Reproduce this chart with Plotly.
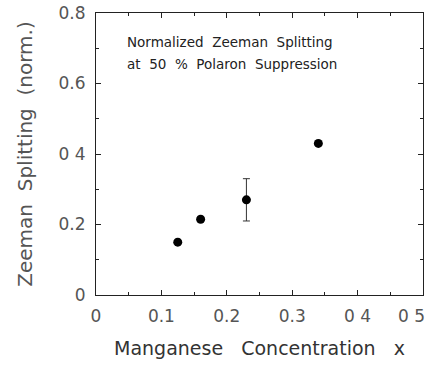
import plotly.graph_objects as go

# Manganese concentration and normalized Zeeman splitting
mn_conc = [0.125, 0.16, 0.23, 0.34]
zeeman_norm = [0.15, 0.215, 0.27, 0.43]
err_plus = [0, 0, 0.06, 0]
err_minus = [0, 0, 0.06, 0]

NB = "\u00a0"
x_ticks = [0, 0.1, 0.2, 0.3, 0.4, 0.5]
x_tick_text = ["0", "0.1", "0.2", "0.3", "0 4", "0 5"]
y_ticks = [0, 0.2, 0.4, 0.6, 0.8]
y_tick_text = ["0", "0.2", "0 4", "0.6", "0.8"]

FONT = "DejaVu Sans"
INK = "#222222"
LABEL = "#555555"

fig = go.Figure()
fig.add_trace(go.Scatter(
    x=mn_conc, y=zeeman_norm, mode="markers",
    marker=dict(size=9, color="black"),
    error_y=dict(type="data", symmetric=False, array=err_plus,
                 arrayminus=err_minus, color="#333333", thickness=1, width=3.5),
    showlegend=False,
))

axis_common = dict(
    showgrid=False, zeroline=False, showline=True, linecolor=INK, linewidth=1,
    mirror="allticks", ticks="inside", ticklen=5, tickwidth=1, tickcolor=INK,
    tickfont=dict(family=FONT, size=17, color=LABEL), automargin=False,
)

# The last x label sits right-aligned at the edge so it stays on the page
fig.update_xaxes(
    range=[0, 0.5], tickvals=x_ticks, ticktext=x_tick_text[:-1] + [""],
    minor=dict(dtick=0.05, ticks="inside", ticklen=3, tickcolor=INK),
    title=dict(text="Manganese" + NB * 3 + "Concentration" + NB * 3 + "x",
               font=dict(family=FONT, size=19, color="#333333"), standoff=16),
    ticklabelstandoff=6,
    **axis_common,
)
fig.add_annotation(
    x=x_ticks[-1], y=0, xref="x", yref="paper", xanchor="right", yanchor="top",
    xshift=4, yshift=-9, text=x_tick_text[-1], showarrow=False,
    font=dict(family=FONT, size=17, color=LABEL),
)

fig.update_yaxes(
    range=[0, 0.8], tickvals=y_ticks, ticktext=y_tick_text,
    minor=dict(dtick=0.1, ticks="inside", ticklen=3, tickcolor=INK),
    title=dict(text="Zeeman" + NB * 2 + "Splitting" + NB * 2 + "(norm.)",
               font=dict(family=FONT, size=20, color="#555555"), standoff=20),
    ticklabelstandoff=6,
    **axis_common,
)

# Two-line caption in the upper-left of the plot area
caption_lines = ["Normalized  Zeeman  Splitting", "at  50  %  Polaron  Suppression"]
caption_y = [0.717, 0.655]
for line, yy in zip(caption_lines, caption_y):
    fig.add_annotation(
        x=0.044, y=yy, xref="x", yref="y", xanchor="left", yanchor="middle",
        text=line.replace("  ", NB * 2), showarrow=False, align="left",
        font=dict(family=FONT, size=13.5, color="#222222"),
    )

fig.update_layout(
    width=431, height=366,
    margin=dict(l=96, r=8, t=13, b=71),
    paper_bgcolor="white", plot_bgcolor="white",
)

fig.write_html("out.html")
